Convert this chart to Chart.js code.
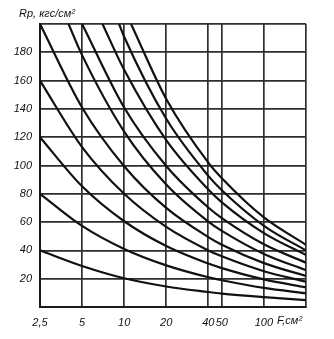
<!DOCTYPE html>
<html>
<head>
<meta charset="utf-8">
<script src="https://cdn.jsdelivr.net/npm/chart.js@4/dist/chart.umd.min.js"></script>
<style>
  html, body { margin: 0; padding: 0; background: #fff; }
  #wrap { width: 334px; height: 339px; }
</style>
</head>
<body>
<div id="wrap"><canvas id="myChart" width="334" height="339"></canvas></div>
<script>
// area F, cm2 (log axis) and allowed stress Rp, kgf/cm2
const fTicks = [2.5, 5, 10, 20, 40, 50, 100, 200];
const fTickLabels = ['2,5', '5', '10', '20', '40', '50', '100', ''];
const rTicks = [0, 20, 40, 60, 80, 100, 120, 140, 160, 180, 200];

// curves that start on the left edge
const lowF = [2.5, 5, 10, 20, 40, 50, 100, 200];
const curve1R = [40, 29, 20.3, 14.5, 10.6, 9.5, 7, 4.9];
const curve2R = [80, 57.3, 41, 29.4, 21, 18.9, 13.5, 9.7];
const curve3R = [120, 85.3, 60.6, 43.1, 30.7, 27.5, 19.5, 13.9];
const curve4R = [160, 113, 80, 56.6, 40, 35.8, 25.3, 17.9];
const curve5R = [200, 141, 99.5, 70, 49.4, 44, 31, 21.9];

// curves that start on the top edge
const curve6F = [4, 5, 10, 20, 40, 50, 100, 200];
const curve6R = [200, 178, 124, 86.6, 60.4, 53.8, 37.5, 26];
const curve7F = [5, 10, 20, 40, 50, 100, 200];
const curve7R = [200, 141, 99.7, 70.3, 62.8, 44.3, 31.3];
const curve8F = [7, 10, 20, 40, 50, 100, 200];
const curve8R = [200, 167.6, 117.9, 83, 74, 52.2, 36.7];
const curve9F = [9.2, 10, 20, 40, 50, 100, 200];
const curve9R = [200, 191, 133, 92.7, 82.5, 57.4, 40];
const curve10F = [11.2, 20, 40, 50, 100, 200];
const curve10R = [200, 147, 102, 91, 63.3, 44];

const curves = [
  [lowF, curve1R], [lowF, curve2R], [lowF, curve3R], [lowF, curve4R], [lowF, curve5R],
  [curve6F, curve6R], [curve7F, curve7R], [curve8F, curve8R], [curve9F, curve9R], [curve10F, curve10R]
];

const datasets = curves.map(([fs, rs]) => ({
  data: fs.map((f, i) => ({ x: f, y: rs[i] })),
  borderColor: '#111',
  borderWidth: 2.2,
  pointRadius: 0,
  fill: false,
  cubicInterpolationMode: 'monotone'
}));

const fontFamily = '"Liberation Sans", Arial, sans-serif';
const tickFont = { family: fontFamily, size: 11, style: 'italic' };

// axis names drawn next to the plot
const axisNames = {
  id: 'axisNames',
  afterDraw(chart) {
    const ctx = chart.ctx;
    ctx.save();
    ctx.fillStyle = '#111';
    ctx.textBaseline = 'alphabetic';
    ctx.textAlign = 'left';
    ctx.font = 'italic 11px ' + fontFamily;
    ctx.fillText('Rp, кгс/см²', 19, 17);
    ctx.fillText('F,см²', 277, 324);
    ctx.restore();
  }
};

new Chart(document.getElementById('myChart'), {
  type: 'line',
  data: { datasets },
  plugins: [axisNames],
  options: {
    responsive: false,
    animation: false,
    layout: { padding: { left: 0, top: 24, right: 28, bottom: 0 } },
    plugins: { legend: { display: false }, tooltip: { enabled: false } },
    scales: {
      x: {
        type: 'logarithmic',
        min: 2.5,
        max: 200,
        afterBuildTicks: s => { s.ticks = fTicks.map(v => ({ value: v })); },
        afterFit: s => { s.height = 32; },
        ticks: {
          autoSkip: false,
          maxRotation: 0,
          padding: 9,
          color: '#111',
          font: tickFont,
          callback: (v, i) => fTickLabels[i]
        },
        grid: { color: '#2e2e2e', lineWidth: 1.7, drawTicks: false },
        border: { color: '#1a1a1a', width: 2 }
      },
      y: {
        type: 'linear',
        min: 0,
        max: 200,
        afterBuildTicks: s => { s.ticks = rTicks.map(v => ({ value: v })); },
        afterFit: s => { s.width = 40; },
        ticks: {
          padding: 8,
          color: '#111',
          font: tickFont,
          callback: v => (v === 0 || v === 200) ? '' : String(v)
        },
        grid: { color: '#2e2e2e', lineWidth: 1.7, drawTicks: false },
        border: { color: '#1a1a1a', width: 2 }
      }
    }
  }
});
</script>
</body>
</html>
